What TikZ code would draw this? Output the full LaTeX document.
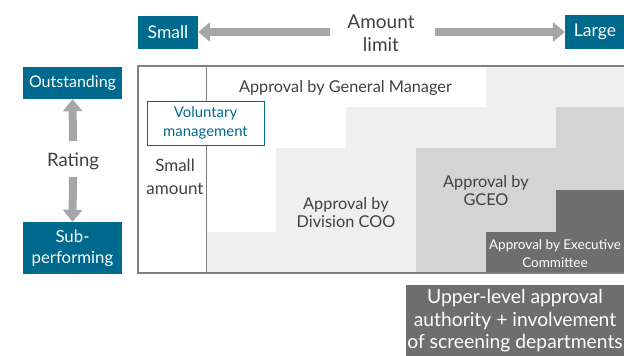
\documentclass[tikz,border=0pt]{standalone}
\usepackage{fontspec}
\setmainfont{Lato}
\usetikzlibrary{arrows.meta}
\definecolor{teal1}{RGB}{0,106,142}
\definecolor{lgrey}{RGB}{239,239,239}
\definecolor{mgrey}{RGB}{212,212,212}
\definecolor{dgrey}{RGB}{110,110,110}
\definecolor{agrey}{RGB}{166,166,166}
\definecolor{frame}{RGB}{128,128,128}
\definecolor{txt}{RGB}{64,64,64}
\tikzset{
  tealbox/.style={fill=teal1, text=white, inner sep=0pt, align=center, font=\fontsize{16}{17}\selectfont},
  bigarrow/.style={draw=agrey, line width=8pt, -{Triangle[length=12pt,width=19pt]}},
  lbl/.style={text=txt, align=center, inner sep=0pt, font=\fontsize{16.3}{18}\selectfont},
}
\begin{document}
\begin{tikzpicture}[x=1pt,y=-1pt]
\useasboundingbox (0,0) rectangle (624,356);
% regions
\fill[lgrey] (486,66) -- (624,66) -- (624,273) -- (206,273) -- (206,232) -- (276,232) -- (276,148) -- (346,148) -- (346,107) -- (486,107) -- cycle;
\fill[mgrey] (556,107) -- (624,107) -- (624,273) -- (416,273) -- (416,148) -- (556,148) -- cycle;
\fill[dgrey] (556,190) -- (624,190) -- (624,273) -- (486,273) -- (486,232) -- (556,232) -- cycle;
% frame
\draw[frame, line width=1.3pt] (624,66) -- (138,66) -- (138,273) -- (624,273);
\draw[frame, line width=1pt] (206,66) -- (206,273);
% top
\node[tealbox, minimum width=60pt, minimum height=33pt, font=\fontsize{17.5}{18}\selectfont] (small) at (168,32) {\raisebox{-1.5pt}{Small}};
\node[tealbox, minimum width=60pt, minimum height=34pt, font=\fontsize{17.5}{18}\selectfont] (large) at (595,32) {\raisebox{-1.5pt}{Large}};
\node[lbl, font=\fontsize{19}{23}\selectfont] (amt) at (381,33) {Amount\\limit};
\coordinate (al) at (330,32);
\coordinate (ar) at (435,32);
\draw[bigarrow] (al) -- (small.east);
\draw[bigarrow] (ar) -- (large.west);
% left
\node[tealbox, minimum width=99pt, minimum height=32pt] (out) at (72.5,83) {\raisebox{-1.5pt}{Outstanding}};
\node[tealbox, minimum width=99pt, minimum height=52pt, font=\fontsize{16.8}{21}\selectfont] (sub) at (72.5,248) {Sub-\\performing};
\node[lbl, font=\fontsize{18.5}{18}\selectfont] (rating) at (73,161) {Rating};
\coordinate (ru) at (73,141);
\coordinate (rd) at (73,177);
\draw[bigarrow] (ru) -- (out.south);
\draw[bigarrow] (rd) -- (sub.north);
% inner labels
\node[draw=teal1, line width=1pt, fill=white, text=teal1, align=center, inner sep=0pt, minimum width=117pt, minimum height=44pt, font=\fontsize{14.9}{19}\selectfont] (vol) at (205.5,123) {Voluntary\\management};
\node[lbl, font=\fontsize{17}{23}\selectfont] (sa) at (175,176.5) {Small\\amount};
\node[lbl] (gm) at (345.5,88) {Approval by General Manager};
\node[lbl] (coo) at (346,213) {Approval by\\Division COO};
\node[lbl] (gceo) at (486,190.5) {Approval by\\GCEO};
\node[lbl, text=white, font=\fontsize{13.5}{18.5}\selectfont] (exec) at (555,253.5) {Approval by Executive\\Committee};
% bottom
\node[fill=dgrey, text=white, align=center, inner sep=0pt, minimum width=218pt, minimum height=72pt, font=\fontsize{19.3}{22.5}\selectfont] (upper) at (515,321) {Upper-level approval\\authority + involvement\\of screening departments};
\end{tikzpicture}
\end{document}
